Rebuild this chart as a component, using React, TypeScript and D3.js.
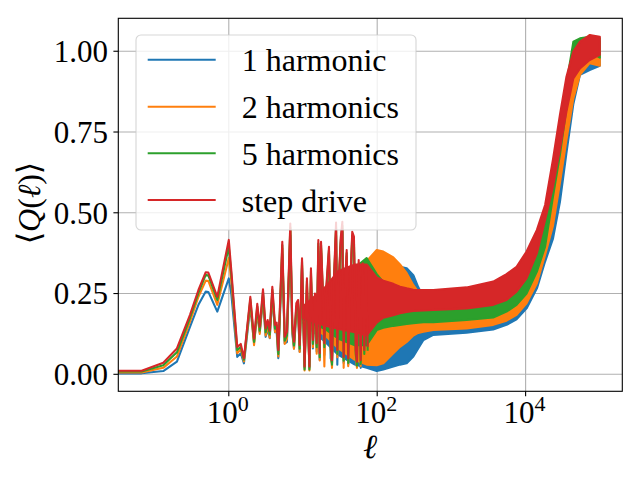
import React, { useEffect } from 'react';
import * as d3 from 'd3';

// legend / series
const seriesNames = ['1 harmonic', '2 harmonics', '5 harmonics', 'step drive'];
const seriesColors = ['#1f77b4', '#ff7f0e', '#2ca02c', '#d62728'];

// single-valued part of the curves (smooth start + isolated spikes)
const lineL = [
  0.03, 0.067, 0.131, 0.2, 0.3, 0.39, 0.489, 0.53, 0.7, 1.0, 1.08, 1.3, 1.45, 1.6,
  1.95, 2.19, 2.42, 2.61, 2.89, 3.14, 3.34, 3.56, 3.86, 4.2, 4.42, 4.65, 5.26, 5.67, 6.08,
  6.74, 7.18, 7.56, 8.13, 8.57, 9.02, 9.7, 10.5, 11.3, 12.2, 12.8, 13.6, 14.5, 15.3, 16.1,
  16.8, 17.5, 18.4, 19.4, 20.6, 22.4, 23.6, 24.6, 26.2, 27.9, 29, 30.5, 32.2, 33.9, 35.3,
  37.2, 38.8, 40.7, 43.4, 46.1, 48.6, 51.3, 53.4, 56.3, 59.9, 63.8, 67, 70.6, 74.5,
];
const blueLine = [
  0.003, 0.003, 0.010, 0.039, 0.147, 0.215, 0.256, 0.255, 0.194, 0.297, 0.25, 0.054, 0.065, 0.034,
  0.21, 0.098, 0.19, 0.13, 0.23, 0.116, 0.14, 0.112, 0.24, 0.13, 0.13, 0.05, 0.37, 0.096, 0.10,
  0.43, 0.125, 0.08, 0.19, 0.20, 0.07, 0.33, 0.02, 0.26, 0.02, 0.29, 0.08, 0.22, 0.07, 0.38,
  0.045, 0.375, 0.24, 0.06, 0.24, 0.36, 0.05, 0.035, 0.27, 0.43, 0.03, 0.27, 0.39, 0.44, 0.035,
  0.27, 0.35, 0.03, 0.25, 0.41, 0.39, 0.04, 0.025, 0.32, 0.02, 0.31, 0.03, 0.30, 0.02,
];
const orangeLine = [
  0.006, 0.006, 0.02, 0.055, 0.163, 0.24, 0.29, 0.289, 0.215, 0.36, 0.29, 0.065, 0.078, 0.04,
  0.222, 0.09, 0.20, 0.125, 0.245, 0.12, 0.15, 0.113, 0.252, 0.131, 0.142, 0.055, 0.39, 0.094, 0.11,
  0.445, 0.136, 0.079, 0.20, 0.21, 0.069, 0.34, 0.012, 0.278, 0.012, 0.308, 0.084, 0.23, 0.064, 0.395,
  0.043, 0.39, 0.256, 0.024, 0.25, 0.375, 0.074, 0.02, 0.282, 0.445, 0.053, 0.28, 0.40, 0.45, 0.02,
  0.28, 0.365, 0.025, 0.262, 0.42, 0.405, 0.05, 0.02, 0.334, 0.025, 0.324, 0.04, 0.308, 0.03,
];
const greenLine = [
  0.009, 0.009, 0.028, 0.068, 0.175, 0.252, 0.308, 0.306, 0.23, 0.395, 0.31, 0.075, 0.085, 0.045,
  0.232, 0.10, 0.21, 0.135, 0.255, 0.13, 0.16, 0.123, 0.262, 0.141, 0.152, 0.063, 0.40, 0.104, 0.12,
  0.455, 0.146, 0.089, 0.21, 0.22, 0.079, 0.35, 0.015, 0.288, 0.015, 0.318, 0.094, 0.24, 0.084, 0.405,
  0.053, 0.40, 0.266, 0.084, 0.26, 0.385, 0.084, 0.03, 0.292, 0.455, 0.063, 0.29, 0.41, 0.46, 0.042,
  0.29, 0.375, 0.035, 0.272, 0.43, 0.415, 0.063, 0.027, 0.344, 0.032, 0.334, 0.063, 0.318, 0.073,
];
const redLine = [
  0.011, 0.011, 0.036, 0.080, 0.184, 0.261, 0.316, 0.315, 0.24, 0.416, 0.323, 0.085, 0.094, 0.05,
  0.24, 0.111, 0.218, 0.147, 0.263, 0.142, 0.168, 0.135, 0.271, 0.153, 0.16, 0.075, 0.41, 0.116, 0.132,
  0.467, 0.158, 0.101, 0.22, 0.23, 0.091, 0.359, 0.024, 0.297, 0.024, 0.328, 0.106, 0.25, 0.096, 0.416,
  0.065, 0.41, 0.276, 0.096, 0.27, 0.395, 0.096, 0.044, 0.302, 0.47, 0.075, 0.30, 0.421, 0.472, 0.054,
  0.30, 0.385, 0.05, 0.282, 0.441, 0.426, 0.075, 0.039, 0.354, 0.044, 0.344, 0.075, 0.328, 0.085,
];

// dense oscillation: lower / upper envelope of each curve
const bandL = [
  10, 20, 30, 50, 72, 98.6, 121, 165, 203, 250, 307, 357, 420, 570, 1600, 3660, 5530, 7550,
  10300, 14200, 18300, 23400, 29000, 35500, 44000, 54000, 73000, 100000,
];
const blueLo = [
  0.16, 0.10, 0.06, 0.03, 0.02, 0.01, 0.015, 0.024, 0.03, 0.034, 0.055, 0.08, 0.106, 0.122, 0.129,
  0.139, 0.153, 0.17, 0.204, 0.266, 0.349, 0.42, 0.533, 0.685, 0.837, 0.927, 0.942, 0.955,
];
const blueHi = [
  0.19, 0.25, 0.29, 0.31, 0.31, 0.31, 0.33, 0.333, 0.333, 0.328, 0.307, 0.27, 0.24, 0.22, 0.21,
  0.22, 0.235, 0.25, 0.28, 0.34, 0.42, 0.52, 0.65, 0.79, 0.93, 0.99, 1.0, 0.99,
];
const orangeLo = [
  0.165, 0.12, 0.08, 0.045, 0.03, 0.028, 0.034, 0.065, 0.085, 0.1, 0.12, 0.128, 0.132, 0.137, 0.142,
  0.153, 0.166, 0.184, 0.22, 0.282, 0.369, 0.46, 0.592, 0.725, 0.854, 0.927, 0.963, 0.955,
];
const orangeHi = [
  0.20, 0.26, 0.29, 0.31, 0.35, 0.385, 0.38, 0.362, 0.34, 0.313, 0.276, 0.255, 0.245, 0.24, 0.23,
  0.24, 0.255, 0.27, 0.30, 0.36, 0.44, 0.56, 0.70, 0.83, 0.96, 1.01, 1.05, 1.03,
];
const greenLo = [
  0.17, 0.14, 0.11, 0.09, 0.09, 0.137, 0.144, 0.15, 0.153, 0.156, 0.158, 0.16, 0.161, 0.161, 0.168,
  0.176, 0.194, 0.215, 0.25, 0.318, 0.395, 0.55, 0.679, 0.824, 0.958, 1.0, 0.999, 0.98,
];
const greenHi = [
  0.21, 0.26, 0.31, 0.33, 0.36, 0.31, 0.285, 0.265, 0.255, 0.252, 0.25, 0.25, 0.25, 0.25, 0.25,
  0.262, 0.28, 0.30, 0.335, 0.40, 0.47, 0.63, 0.77, 0.90, 1.03, 1.04, 1.045, 1.04,
];
const redLo = [
  0.175, 0.15, 0.14, 0.13, 0.12, 0.16, 0.175, 0.183, 0.189, 0.193, 0.196, 0.197, 0.198, 0.199, 0.204,
  0.215, 0.23, 0.256, 0.297, 0.375, 0.478, 0.581, 0.697, 0.813, 0.916, 0.947, 0.973, 0.989,
];
const redHi = [
  0.21, 0.27, 0.32, 0.34, 0.34, 0.30, 0.29, 0.28, 0.271, 0.266, 0.262, 0.261, 0.261, 0.261, 0.269,
  0.287, 0.31, 0.333, 0.38, 0.447, 0.524, 0.666, 0.803, 0.921, 0.999, 1.03, 1.05, 1.045,
];

const lineValues = [blueLine, orangeLine, greenLine, redLine];
const bandLows = [blueLo, orangeLo, greenLo, redLo];
const bandHighs = [blueHi, orangeHi, greenHi, redHi];

// axes
const yTicks = [0, 0.25, 0.5, 0.75, 1.0];
const yTickLabels = ['0.00', '0.25', '0.50', '0.75', '1.00'];
const xTicks = [1, 100, 10000];
const xTickExps = ['0', '2', '4'];

const W = 640;
const H = 480;
const plot = { left: 118.3, right: 622.3, top: 18.3, bottom: 391.3 };
const serif = '"Liberation Serif", "DejaVu Serif", "DejaVu Sans", serif';
const lw = 2.08;

const App: React.FC = () => {
  useEffect(() => {
    document.body.style.margin = '0';
  }, []);

  const x = d3.scaleLog().domain([10 ** -1.489, 10 ** 5.303]).range([plot.left, plot.right]);
  const y = d3.scaleLinear().domain([-0.0526, 1.102]).range([plot.bottom, plot.top]);

  const line = d3.line<number>()
    .x((_, i) => x(lineL[i]))
    .y(d => y(d));

  const makeArea = (lo: number[], hi: number[]) =>
    d3.area<number>()
      .x(d => x(d))
      .y0((_, i) => y(lo[i]))
      .y1((_, i) => y(hi[i]))(bandL) || '';

  const legendRows = [59.7, 106.7, 153.3, 200];

  return (
    <svg width={W} height={H} style={{ display: 'block', background: '#fff' }}>
      <defs>
        <clipPath id="plotClip">
          <rect x={plot.left} y={plot.top} width={plot.right - plot.left} height={plot.bottom - plot.top} />
        </clipPath>
      </defs>

      {/* grid */}
      <g stroke="#b0b0b0" strokeWidth={1.1}>
        {xTicks.map(t => (
          <line key={'gx' + t} x1={x(t)} x2={x(t)} y1={plot.top} y2={plot.bottom} />
        ))}
        {yTicks.map(t => (
          <line key={'gy' + t} x1={plot.left} x2={plot.right} y1={y(t)} y2={y(t)} />
        ))}
      </g>

      {/* data */}
      <g clipPath="url(#plotClip)" fill="none" strokeLinejoin="round">
        {seriesColors.map((c, i) => (
          <g key={seriesNames[i]}>
            <path d={makeArea(bandLows[i], bandHighs[i])} fill={c} stroke={c} strokeWidth={lw} />
            <path d={line(lineValues[i]) || ''} stroke={c} strokeWidth={lw} />
          </g>
        ))}
      </g>

      {/* spines */}
      <rect x={plot.left} y={plot.top} width={plot.right - plot.left} height={plot.bottom - plot.top}
        fill="none" stroke="#000" strokeWidth={1.1} />

      {/* y ticks */}
      <g fontFamily={serif} fontSize={31} textAnchor="end">
        {yTicks.map((t, i) => (
          <g key={'ty' + t}>
            <line x1={plot.left - 4.9} x2={plot.left} y1={y(t)} y2={y(t)} stroke="#000" strokeWidth={1.1} />
            <text x={108} y={y(t) + 10.8}>{yTickLabels[i]}</text>
          </g>
        ))}
      </g>

      {/* x ticks */}
      <g fontFamily={serif} textAnchor="middle">
        {xTicks.map((t, i) => (
          <g key={'tx' + t}>
            <line x1={x(t)} x2={x(t)} y1={plot.bottom} y2={plot.bottom + 4.9} stroke="#000" strokeWidth={1.1} />
            <text x={x(t) - 1} y={422.7} fontSize={31}>
              10<tspan fontSize={22} dy={-12}>{xTickExps[i]}</tspan>
            </text>
          </g>
        ))}
      </g>

      {/* axis labels */}
      <text x={370} y={458} fontFamily={serif} fontSize={34} fontStyle="italic" textAnchor="middle">ℓ</text>
      <text transform="translate(40,203) rotate(-90)" fontFamily={serif} fontSize={32} textAnchor="middle">
        ⟨<tspan fontStyle="italic">Q</tspan>(<tspan fontStyle="italic">ℓ</tspan>)⟩
      </text>

      {/* legend */}
      <rect x={136} y={35} width={280} height={195} rx={5} ry={5}
        fill="#fff" fillOpacity={0.8} stroke="#cccccc" strokeOpacity={0.8} strokeWidth={1.1} />
      <g fontFamily={serif} fontSize={32}>
        {seriesNames.map((n, i) => (
          <g key={'lg' + n}>
            <line x1={147.7} x2={215.7} y1={legendRows[i]} y2={legendRows[i]} stroke={seriesColors[i]} strokeWidth={lw} />
            <text x={241.7} y={legendRows[i] + 11.5}>{n}</text>
          </g>
        ))}
      </g>
    </svg>
  );
};

export default App;
